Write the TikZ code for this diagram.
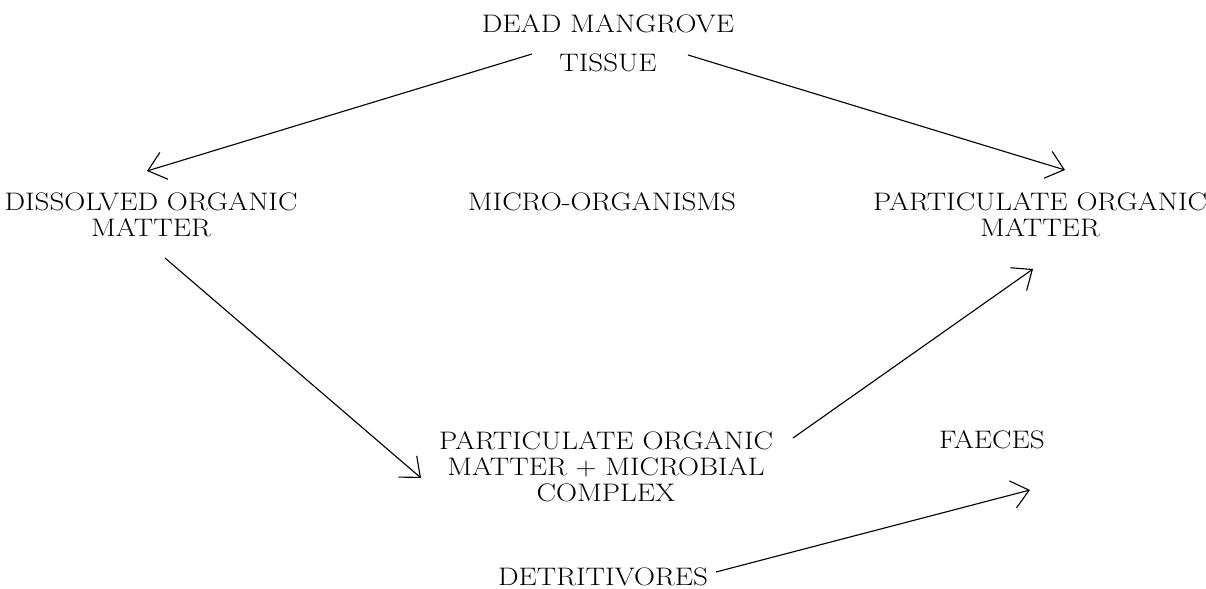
\documentclass[tikz,border=0pt]{standalone}
\usepackage{fontspec}
\setmainfont{Latin Modern Roman}[FakeStretch=1.15]
\usetikzlibrary{arrows.meta}
\begin{document}
\begin{tikzpicture}[x=0.025cm,y=-0.025cm,
  lbl/.style={inner sep=0pt,align=center,font=\fontsize{18}{18.5}\selectfont},
  flow/.style={line width=0.8pt,-{Straight Barb[length=4.2mm,width=7mm,line width=0.8pt]}}]
\useasboundingbox (0,0) rectangle (1206,589);
\node[lbl] (dead) at (608,43) {DEAD MANGROVE\\[9pt]TISSUE};
\node[lbl] (dom) at (151,215) {DISSOLVED ORGANIC\\MATTER};
\node[lbl] (micro) at (602,202) {MICRO-ORGANISMS};
\node[lbl] (pom) at (1040,215) {PARTICULATE ORGANIC\\MATTER};
\node[lbl] (pomc) at (606,467) {PARTICULATE ORGANIC\\MATTER + MICROBIAL\\COMPLEX};
\node[lbl] (faeces) at (992,440) {FAECES};
\node[lbl,anchor=base] (det) at (603,586) {DETRITIVORES};
\coordinate (a1s) at (532,54);
\coordinate (a1e) at (147,171);
\coordinate (a2s) at (688,55);
\coordinate (a2e) at (1065,170);
\coordinate (a3s) at (165,258);
\coordinate (a3e) at (421,478);
\coordinate (a4s) at (793,438);
\coordinate (a4e) at (1033,269);
\coordinate (a5s) at (716,572);
\coordinate (a5e) at (1030,490);
\draw[flow] (a1s) -- (a1e);
\draw[flow] (a2s) -- (a2e);
\draw[flow] (a3s) -- (a3e);
\draw[flow] (a4s) -- (a4e);
\draw[flow] (a5s) -- (a5e);
\end{tikzpicture}
\end{document}
